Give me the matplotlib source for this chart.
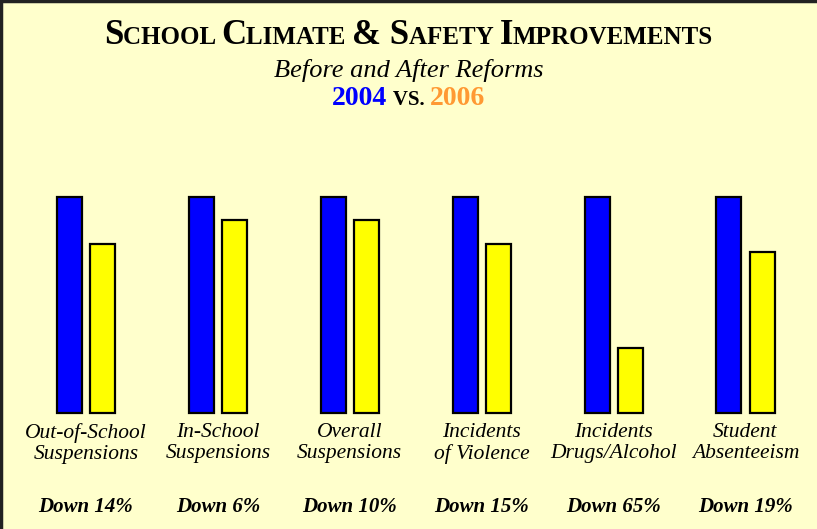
import matplotlib.pyplot as plt
from matplotlib.lines import Line2D

categories = ["Out-of-School\nSuspensions", "In-School\nSuspensions",
              "Overall\nSuspensions", "Incidents\nof Violence",
              "Incidents\nDrugs/Alcohol", "Student\nAbsenteeism"]
before_2004 = [100, 100, 100, 100, 100, 100]
after_2006 = [78, 89, 89, 78, 30, 74.5]
changes = ["Down 14%", "Down 6%", "Down 10%", "Down 15%", "Down 65%", "Down 19%"]

BG = "#FFFFCC"
BLUE = "#0000FF"
YEL = "#FFFF00"
ORANGE = "#FF9933"
SERIF = ["Liberation Serif", "DejaVu Serif"]

W, H = 817, 529
fig = plt.figure(figsize=(W / 100, H / 100), dpi=100, facecolor=BG)
ax = fig.add_axes([0, 0, 1, 1])
ax.set_facecolor(BG)
ax.axis("off")

# pixel layout: group 0 at x=86, spacing ~132px; baseline y=413, 100 -> y=196.5
step = 131.9
ppu = (413 - 196.5) / 100
ax.set_xlim(-86 / step, (W - 86) / step)
ax.set_ylim(-(H - 413) / ppu, 100 + 196.5 / ppu)

x = range(len(categories))
bw, off = 25 / step, 16.5 / step
ax.bar([i - off for i in x], before_2004, width=bw, color=BLUE,
       edgecolor="black", linewidth=1.6)
ax.bar([i + off for i in x], after_2006, width=bw, color=YEL,
       edgecolor="black", linewidth=1.6)

tr = ax.get_xaxis_transform()
for i in x:
    ax.text(i, 1 - 423 / H, categories[i], transform=tr, ha="center", va="top",
            family=SERIF, style="italic", fontsize=15.5, linespacing=1.15)
    ax.text(i, 1 - 512 / H, changes[i], transform=tr, ha="center",
            va="baseline", family=SERIF, style="italic", fontweight="bold",
            fontsize=15)


def mixed_line(parts, ybase):
    """draw pieces (text, size, color) side by side, centred on the figure"""
    r = fig.canvas.get_renderer()
    texts = []
    for s, size, col in parts:
        t = fig.text(0, 1 - ybase / H, s, fontsize=size, color=col,
                     family=SERIF, fontweight="bold", va="baseline", ha="left")
        texts.append(t)
    widths = [t.get_window_extent(r).width for t in texts]
    xpos = W / 2 - sum(widths) / 2
    for t, w in zip(texts, widths):
        t.set_x(xpos / W)
        xpos += w


big, small = 25, 18
mixed_line([("S", big, "black"), ("CHOOL ", small, "black"),
            ("C", big, "black"), ("LIMATE ", small, "black"),
            ("& S", big, "black"), ("AFETY ", small, "black"),
            ("I", big, "black"), ("MPROVEMENTS", small, "black")], 44)
fig.text(0.5, 1 - 77 / H, "Before and After Reforms", ha="center",
         va="baseline", family=SERIF, style="italic", fontsize=19)
mixed_line([("2004", 20, BLUE), (" VS. ", 15, "black"), ("2006", 20, ORANGE)],
           105)

# frame (only top and left edges are visible in the crop)
fig.add_artist(Line2D([0.5 / W, 0.5 / W], [0, 1], color="#222222", lw=2.5))
fig.add_artist(Line2D([0, 1], [1 - 1 / H, 1 - 1 / H], color="#222222", lw=2.5))

fig.savefig("out.png", dpi=100, facecolor=BG)
